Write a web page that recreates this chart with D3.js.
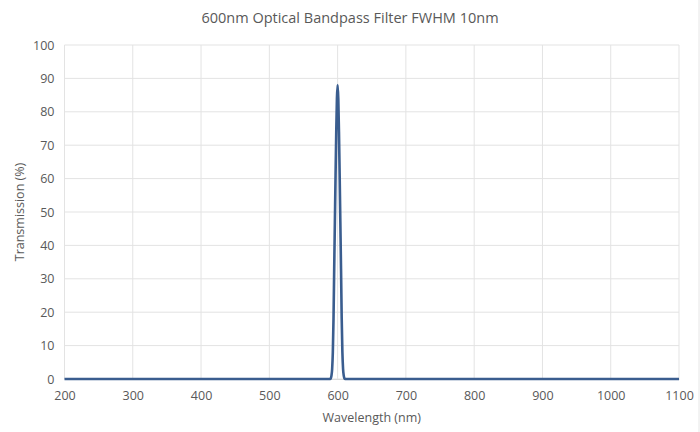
<!DOCTYPE html>
<html>
<head>
<meta charset="utf-8">
<script src="https://cdn.jsdelivr.net/npm/d3@7"></script>
<style>
  body { margin: 0; background: #fff; }
  svg { display: block; font-family: "Open Sans", "Noto Sans", sans-serif; }
</style>
</head>
<body>
<svg id="chart" width="700" height="432"></svg>
<script>
// wavelength (nm) and transmission (%)
var wavelengths = [200, 580, 589, 590, 591, 592, 593, 594, 595, 596, 597, 598, 599, 600,
                   601, 602, 603, 604, 605, 606, 607, 608, 609, 610, 611, 620, 1100];
var transmission = [0, 0, 0, 0.2, 1, 3, 8, 18, 33, 47, 61, 74, 84, 88,
                    84, 74, 61, 47, 33, 18, 8, 3, 1, 0.2, 0, 0, 0];

var xTicks = [200, 300, 400, 500, 600, 700, 800, 900, 1000, 1100];
var yTicks = [0, 10, 20, 30, 40, 50, 60, 70, 80, 90, 100];

var svg = d3.select('#chart');
var margin = {l: 64.5, r: 21, t: 45, b: 53};
var width = 700 - margin.l - margin.r;
var height = 432 - margin.t - margin.b;

var x = d3.scaleLinear().domain([200, 1100]).range([0, width]);
var y = d3.scaleLinear().domain([0, 100]).range([height, 0]);

var g = svg.append('g')
    .attr('transform', 'translate(' + [margin.l, margin.t] + ')');

// gridlines
g.append('g')
    .selectAll('line')
    .data(yTicks)
    .enter().append('line')
    .attr('x1', 0).attr('x2', width)
    .attr('y1', function(d) { return y(d); })
    .attr('y2', function(d) { return y(d); })
    .attr('stroke', '#e3e3e3').attr('stroke-width', 1);

g.append('g')
    .selectAll('line')
    .data(xTicks)
    .enter().append('line')
    .attr('y1', 0).attr('y2', height)
    .attr('x1', function(d) { return x(d); })
    .attr('x2', function(d) { return x(d); })
    .attr('stroke', '#e3e3e3').attr('stroke-width', 1);

// axes (labels only, Excel style)
var xAxis = d3.axisBottom(x).tickValues(xTicks).tickFormat(d3.format('d'))
    .tickSize(0).tickPadding(12);
var xg = g.append('g').attr('transform', 'translate(0,' + height + ')').call(xAxis);
xg.select('.domain').attr('stroke', '#d9d9d9');

var yAxis = d3.axisLeft(y).tickValues(yTicks).tickFormat(d3.format('d'))
    .tickSize(0).tickPadding(10);
var yg = g.append('g').call(yAxis);
yg.select('.domain').remove();

svg.selectAll('.tick text')
    .attr('font-size', '12.5px')
    .attr('fill', '#595959')
    .attr('font-family', '"Open Sans", "Noto Sans", sans-serif');

// data line
var line = d3.line()
    .x(function(d, i) { return x(wavelengths[i]); })
    .y(function(d) { return y(d); })
    .curve(d3.curveMonotoneX);

g.append('path')
    .datum(transmission)
    .attr('d', line)
    .attr('fill', 'none')
    .attr('stroke', '#3a5d8f')
    .attr('stroke-width', 2.6)
    .attr('stroke-linejoin', 'round');

// titles
svg.append('text')
    .attr('x', 350).attr('y', 23)
    .attr('text-anchor', 'middle')
    .attr('font-size', '14.5px')
    .attr('fill', '#595959')
    .text('600nm Optical Bandpass Filter FWHM 10nm');

svg.append('text')
    .attr('x', margin.l + width / 2).attr('y', 422)
    .attr('text-anchor', 'middle')
    .attr('font-size', '12.5px')
    .attr('fill', '#595959')
    .text('Wavelength (nm)');

svg.append('text')
    .attr('transform', 'translate(24,' + (margin.t + height / 2) + ') rotate(-90)')
    .attr('text-anchor', 'middle')
    .attr('font-size', '12.5px')
    .attr('fill', '#595959')
    .text('Transmission (%)');

// faint chart border on the right edge
svg.append('line')
    .attr('x1', 699).attr('x2', 699).attr('y1', 0).attr('y2', 432)
    .attr('stroke', '#e6e6e6');
</script>
</body>
</html>
